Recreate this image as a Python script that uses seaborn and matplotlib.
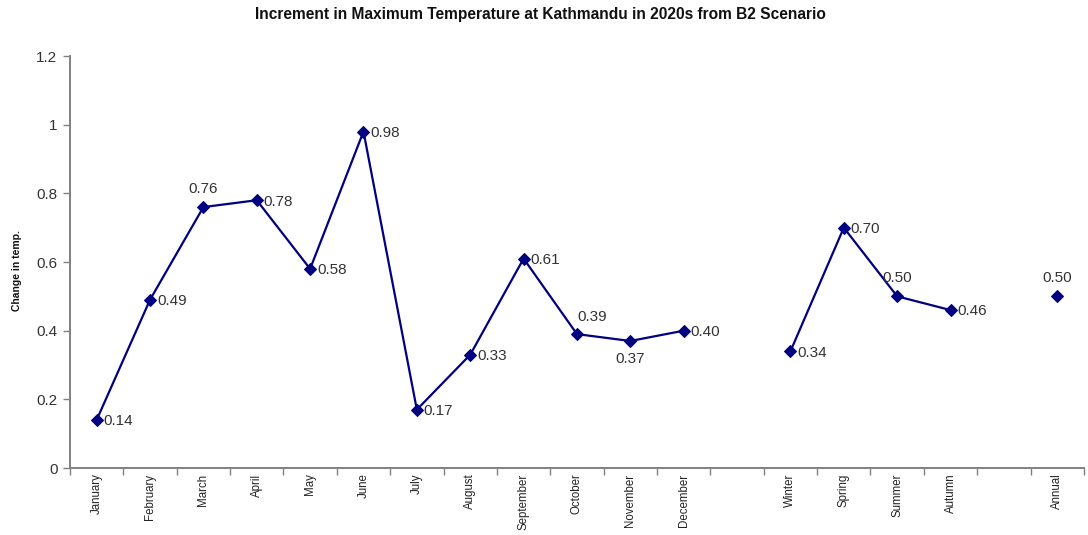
import matplotlib
matplotlib.use("Agg")
import matplotlib.pyplot as plt
import seaborn as sns
import pandas as pd
import numpy as np

months = ["January", "February", "March", "April", "May", "June", "July",
          "August", "September", "October", "November", "December"]
month_vals = [0.14, 0.49, 0.76, 0.78, 0.58, 0.98, 0.17, 0.33, 0.61, 0.39, 0.37, 0.40]
seasons = ["Winter", "Spring", "Summer", "Autumn"]
season_vals = [0.34, 0.70, 0.50, 0.46]
annual = ["Annual"]
annual_vals = [0.50]

# where each value label sits relative to its marker
month_label_pos = ["r", "r", "t", "r", "r", "r", "r", "r", "r", "tr", "b", "r"]
season_label_pos = ["r", "r", "t", "r"]
annual_label_pos = ["t"]

sns.set_theme(style="white")
plt.rcParams["font.family"] = ["Liberation Sans", "DejaVu Sans"]

# category slots: months, blank, seasons, blank, annual
labels = months + [""] + seasons + [""] + annual
pos_month = list(range(len(months)))
pos_season = [len(months) + 1 + i for i in range(len(seasons))]
pos_annual = [len(months) + len(seasons) + 2]

df = pd.DataFrame({
    "pos": pos_month + pos_season + pos_annual,
    "value": month_vals + season_vals + annual_vals,
    "group": ["m"] * len(months) + ["s"] * len(seasons) + ["a"],
    "lab": month_label_pos + season_label_pos + annual_label_pos,
})

navy = "#000080"
label_color = "#333333"
fig = plt.figure(figsize=(10.88, 5.35), dpi=100)
ax = fig.add_axes([0.0643, 0.1252, 0.9320, 0.7701])

sns.lineplot(data=df, x="pos", y="value", units="group", estimator=None,
             color=navy, linewidth=1.6, marker="D", markersize=6.5,
             markeredgecolor=navy, markerfacecolor=navy, ax=ax, sort=False)

for _, r in df.iterrows():
    txt = f"{r['value']:.2f}"
    kw = dict(textcoords="offset points", fontsize=11, color=label_color)
    if r["lab"] == "r":
        ax.annotate(txt, (r["pos"], r["value"]), xytext=(5, -1), ha="left", va="center", **kw)
    elif r["lab"] == "t":
        ax.annotate(txt, (r["pos"], r["value"]), xytext=(0, 8), ha="center", va="bottom", **kw)
    elif r["lab"] == "tr":
        ax.annotate(txt, (r["pos"], r["value"]), xytext=(0, 7), ha="left", va="bottom", **kw)
    else:
        ax.annotate(txt, (r["pos"], r["value"]), xytext=(0, -8), ha="center", va="top", **kw)

ax.set_xlim(-0.5, len(labels) - 0.5)
ax.set_ylim(0, 1.2)
ax.set_yticks(np.arange(0, 1.21, 0.2))
ax.set_yticklabels(["0", "0.2", "0.4", "0.6", "0.8", "1", "1.2"], fontsize=11, color=label_color)

# tick marks on category boundaries, labels centred in each slot
ax.set_xticks(np.arange(-0.5, len(labels), 1.0))
ax.set_xticklabels([])
ax.set_xticks(np.arange(len(labels)), minor=True)
ax.set_xticklabels(labels, minor=True, rotation=90, fontsize=8.3,
                   color="#222222", va="top")
ax.tick_params(axis="x", which="major", direction="out", length=5, width=1, color="#808080", bottom=True)
ax.tick_params(axis="x", which="minor", length=0, pad=4)
ax.tick_params(axis="y", direction="out", length=5, width=1, color="#808080", left=True, pad=4)

for s in ["top", "right"]:
    ax.spines[s].set_visible(False)
for s in ["left", "bottom"]:
    ax.spines[s].set_color("#808080")
    ax.spines[s].set_linewidth(1.4)

ax.set_xlabel("")
ax.set_ylabel("Change in temp.", fontsize=7.5, fontweight="bold", color="#111111")
ax.yaxis.set_label_coords(-0.047, 0.48)
fig.text(0.497, 0.972, "Increment in Maximum Temperature at Kathmandu in 2020s from B2 Scenario",
         ha="center", va="center", fontsize=11.2, fontweight="bold", color="#111111")

fig.savefig("out.png", dpi=100)
